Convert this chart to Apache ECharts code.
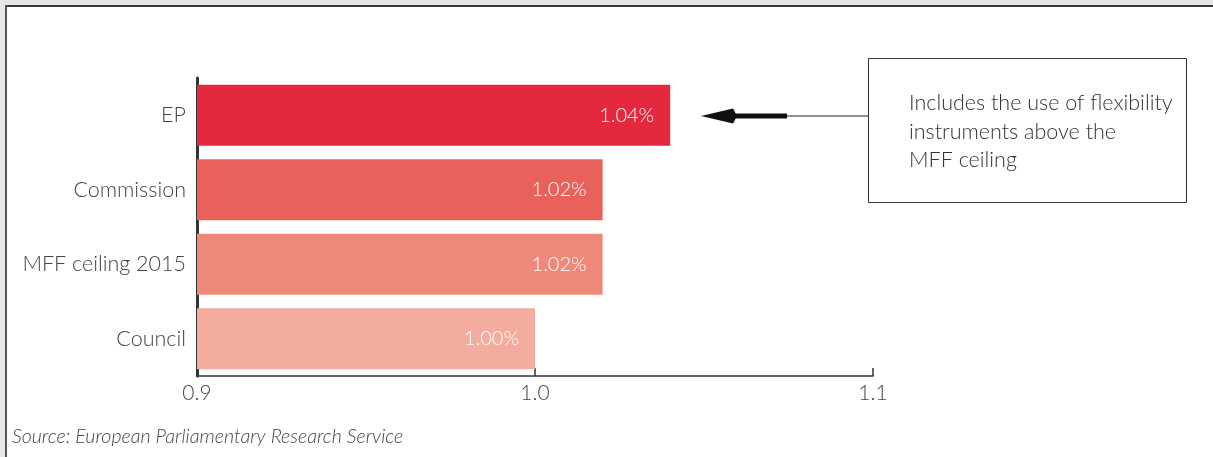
<!DOCTYPE html>
<html>
<head>
<meta charset="utf-8">
<script src="https://cdn.jsdelivr.net/npm/echarts@6/dist/echarts.min.js"></script>
<style>
  html, body { margin: 0; padding: 0; background: #e6e7e8; }
  #main { width: 1213px; height: 457px; }
</style>
</head>
<body>
<div id="main"></div>
<script>
// categories, bottom to top
var categories = ['Council', 'MFF ceiling 2015', 'Commission', 'EP']
var values = [1.00, 1.02, 1.02, 1.04]
var barColors = ['#f3ac9e', '#ee8979', '#e8615b', '#e4293f']
var xTicks = [0.9, 1.0, 1.1]
var note = ['Includes the use of flexibility', 'instruments above the', 'MFF ceiling']

var chart = echarts.init(document.getElementById('main'))
var font = 'Lato, "Open Sans", sans-serif'

var option = {
  backgroundColor: 'transparent',
  animation: false,
  grid: { left: 197, right: 340, top: 78, bottom: 81, containLabel: false },
  xAxis: {
    type: 'value',
    min: 0.9,
    max: 1.1,
    interval: 0.1,
    axisLine: { show: true, lineStyle: { color: '#333', width: 1.5 } },
    axisTick: { show: true, inside: true, length: 8, lineStyle: { color: '#333', width: 1.5 } },
    splitLine: { show: false },
    axisLabel: {
      color: '#444', fontFamily: font, fontWeight: 300, fontSize: 21, margin: 7,
      formatter: function (v) {
        return xTicks.indexOf(Math.round(v * 10) / 10) >= 0 ? v.toFixed(1) : ''
      }
    }
  },
  yAxis: {
    type: 'category',
    data: categories,
    axisLine: { show: true, lineStyle: { color: '#333', width: 3 } },
    axisTick: { show: false },
    axisLabel: { color: '#444', fontFamily: font, fontWeight: 300, fontSize: 21.5, margin: 11 }
  },
  series: [{
    type: 'bar',
    barCategoryGap: '18%',
    data: values.map(function (v, i) {
      return { value: v, itemStyle: { color: barColors[i] } }
    }),
    label: {
      show: true,
      position: 'insideRight',
      distance: 16,
      color: '#fff',
      fontFamily: font,
      fontWeight: 300,
      fontSize: 20,
      formatter: function (p) { return p.value.toFixed(2) + '%' }
    }
  }],
  graphic: [
    // white panel with dark top/left edge
    { type: 'rect', z: -10, shape: { x: 6, y: 6, width: 1207, height: 451 }, style: { fill: '#fff' } },
    { type: 'line', shape: { x1: 5, y1: 6, x2: 1213, y2: 6 }, style: { stroke: '#3a3a3a', lineWidth: 2 } },
    { type: 'line', shape: { x1: 6, y1: 5, x2: 6, y2: 457 }, style: { stroke: '#555', lineWidth: 2 } },
    // annotation box
    { type: 'rect', shape: { x: 868.5, y: 58.5, width: 318, height: 144 }, style: { fill: '#fff', stroke: '#333', lineWidth: 1 } },
    {
      type: 'text', left: 909, top: 89,
      style: { text: note.join('\n'), fontFamily: font, fontWeight: 300, fontSize: 21.5, lineHeight: 28.5, fill: '#333' }
    },
    // arrow
    { type: 'line', shape: { x1: 786, y1: 116, x2: 868, y2: 116 }, style: { stroke: '#222', lineWidth: 1 } },
    { type: 'line', shape: { x1: 730, y1: 116, x2: 787, y2: 116 }, style: { stroke: '#111', lineWidth: 5 } },
    { type: 'polygon', shape: { points: [[701, 116], [733, 108.5], [737, 116], [733, 123.5]] }, style: { fill: '#111' } },
    // source
    {
      type: 'text', left: 12, top: 427,
      style: { text: 'Source: European Parliamentary Research Service', fontFamily: font, fontStyle: 'italic', fontWeight: 300, fontSize: 19.6, fill: '#444' }
    }
  ]
}

chart.setOption(option)
window.addEventListener('resize', function () { chart.resize() })
</script>
</body>
</html>
